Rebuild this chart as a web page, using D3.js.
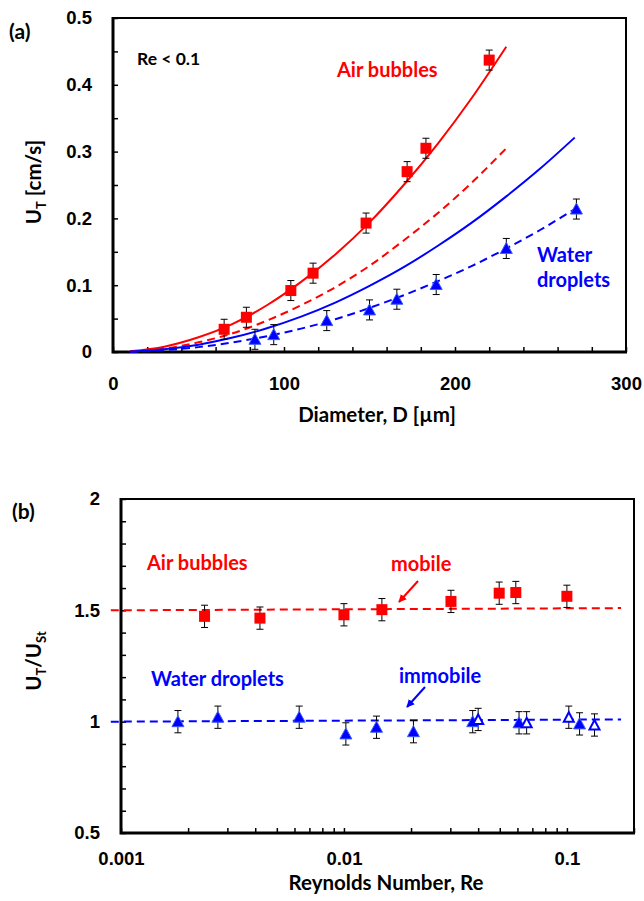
<!DOCTYPE html>
<meta charset="utf-8">
<head>
<title>Terminal velocity</title>
<style>
body { margin: 0; background: #fff; font-family: Lato, "Open Sans", sans-serif; }
text { font-weight: bold; }
.tick line { stroke: #000; stroke-width: 1.5; }
.tick text { font-size: 18.5px; fill: #000; }
.domain { display: none; }
</style>
</head>
<body>
<svg width="644" height="901"></svg>
<script src="https://cdnjs.cloudflare.com/ajax/libs/d3/7.8.5/d3.min.js"></script>
<script>
// ---- panel (a) data ----
var bubbleD   = [65, 78, 104, 117, 148, 172, 183, 220];
var bubbleU   = [0.034, 0.052, 0.092, 0.118, 0.193, 0.270, 0.305, 0.437];
var bubbleErr = [0.015, 0.015, 0.015, 0.015, 0.015, 0.015, 0.015, 0.015];
var dropletD   = [83, 94, 125, 150, 166, 189, 230, 271];
var dropletU   = [0.019, 0.026, 0.047, 0.063, 0.079, 0.101, 0.155, 0.214];
var dropletErr = [0.015, 0.015, 0.015, 0.015, 0.015, 0.015, 0.015, 0.015];

var curveBubbleD   = [10, 30, 50, 70, 90, 110, 130, 150, 170, 190, 210, 230];
var bubbleMobile   = [0.001, 0.008, 0.022, 0.042, 0.070, 0.105, 0.146, 0.194, 0.250, 0.312, 0.381, 0.457];
var bubbleImmobile = [0.0007, 0.005, 0.0145, 0.028, 0.047, 0.070, 0.097, 0.129, 0.167, 0.208, 0.254, 0.305];
var curveDropD      = [10, 30, 50, 70, 90, 110, 130, 150, 170, 190, 210, 230, 250, 270];
var dropletMobile   = [0.0004, 0.004, 0.011, 0.0216, 0.0356, 0.053, 0.074, 0.099, 0.127, 0.159, 0.194, 0.233, 0.275, 0.321];
var dropletImmobile = [0.0003, 0.0027, 0.0073, 0.0144, 0.0237, 0.035, 0.049, 0.066, 0.085, 0.106, 0.129, 0.155, 0.183, 0.214];

var xTicksA = [0, 100, 200, 300];
var yTicksA = [0, 0.1, 0.2, 0.3, 0.4, 0.5];

// ---- panel (b) data ----
var reBubble    = [0.00237, 0.0042, 0.0100, 0.0148, 0.0302, 0.0497, 0.059, 0.100];
var ratioBubble = [1.473, 1.465, 1.48, 1.503, 1.54, 1.577, 1.58, 1.563];
var reDropFilled    = [0.0018, 0.00272, 0.0063, 0.0102, 0.014, 0.0205, 0.0378, 0.061, 0.114];
var ratioDropFilled = [1.0, 1.02, 1.02, 0.945, 0.975, 0.955, 1.0, 0.995, 0.99];
var reDropOpen    = [0.040, 0.066, 0.102, 0.133];
var ratioDropOpen = [1.01, 0.995, 1.02, 0.985];
var ratioErr = 0.05;
var reFit = [0.0009, 0.175];
var bubbleFit = [1.5, 1.51];
var dropletFit = [1.0, 1.01];

var xTicksB = [0.001, 0.01, 0.1];
var yTicksB = [0.5, 1, 1.5, 2];

var RED = "#ff0000", BLUE = "#0000ff";

var svg = d3.select("svg");
var defs = svg.append("defs");
[["arRed", RED], ["arBlue", BLUE]].forEach(function(m) {
	defs.append("marker").attr("id", m[0])
		.attr("viewBox", "0 0 10 10").attr("refX", 9).attr("refY", 5)
		.attr("markerWidth", 4).attr("markerHeight", 4).attr("orient", "auto")
		.append("path").attr("d", "M0,0L10,5L0,10Z").attr("fill", m[1]);
});

function zip(a, b) { return a.map(function(v, i) { return [v, b[i]]; }); }

function errorBars(g, xs, ys, errs, x, y) {
	var eb = g.append("g").attr("stroke", "#000").attr("stroke-width", 1);
	xs.forEach(function(d, i) {
		var e = Array.isArray(errs) ? errs[i] : errs;
		var cx = x(d);
		eb.append("line").attr("x1", cx).attr("x2", cx).attr("y1", y(ys[i] - e)).attr("y2", y(ys[i] + e));
		eb.append("line").attr("x1", cx - 3.5).attr("x2", cx + 3.5).attr("y1", y(ys[i] - e)).attr("y2", y(ys[i] - e));
		eb.append("line").attr("x1", cx - 3.5).attr("x2", cx + 3.5).attr("y1", y(ys[i] + e)).attr("y2", y(ys[i] + e));
	});
}
function squares(g, xs, ys, x, y) {
	g.append("g").selectAll("rect").data(zip(xs, ys)).join("rect")
		.attr("x", function(d) { return x(d[0]) - 5.5; })
		.attr("y", function(d) { return y(d[1]) - 5.5; })
		.attr("width", 11).attr("height", 11).attr("fill", RED);
}
function triangles(g, xs, ys, x, y, open) {
	g.append("g").selectAll("path").data(zip(xs, ys)).join("path")
		.attr("transform", function(d) { return "translate(" + x(d[0]) + "," + y(d[1]) + ")"; })
		.attr("d", open ? "M0,-5L5,4.5L-5,4.5Z" : "M0,-6L6,5L-6,5Z")
		.attr("fill", open ? "#fff" : BLUE)
		.attr("stroke", open ? BLUE : "#3a5cff").attr("stroke-width", open ? 2 : 1);
}
function label(g, x, y, size, color, txt, anchor) {
	return g.append("text").attr("x", x).attr("y", y).attr("font-size", size)
		.attr("fill", color || "#000").attr("text-anchor", anchor || "start").text(txt);
}

//////////////////////////////////////////////////
// Panel (a)
//////////////////////////////////////////////////
var xa = d3.scaleLinear().domain([0, 300]).range([113, 626]);
var ya = d3.scaleLinear().domain([0, 0.5]).range([352, 18]);
var ga = svg.append("g");

ga.append("g").attr("transform", "translate(0,352)")
	.call(d3.axisBottom(xa).tickValues(d3.range(0, 301, 20)).tickSize(-5).tickPadding(25)
		.tickFormat(function(d) { return xTicksA.indexOf(d) >= 0 ? d : ""; }));
ga.append("g").attr("transform", "translate(113,0)")
	.call(d3.axisLeft(ya).tickValues(d3.range(0, 11).map(function(i) { return i * 0.05; })).tickSize(-5).tickPadding(21)
		.tickFormat(function(d) {
			var v = Math.round(d * 100) / 100;
			return yTicksA.some(function(t) { return Math.abs(t - v) < 1e-9; }) ? (v === 0 ? "0" : d3.format(".1f")(v)) : "";
		}));
ga.append("path").attr("d", "M113,18H626V352").attr("fill", "none").attr("stroke", "#000").attr("stroke-width", 2);
ga.append("path").attr("d", "M113,17V352H627").attr("fill", "none").attr("stroke", "#000").attr("stroke-width", 3);

var lineA = d3.line().x(function(d) { return xa(d[0]); }).y(function(d) { return ya(d[1]); }).curve(d3.curveMonotoneX);
ga.append("path").attr("d", lineA(zip(curveBubbleD, bubbleMobile))).attr("fill", "none").attr("stroke", RED).attr("stroke-width", 2);
ga.append("path").attr("d", lineA(zip(curveBubbleD, bubbleImmobile))).attr("fill", "none").attr("stroke", RED).attr("stroke-width", 2).attr("stroke-dasharray", "8,5");
ga.append("path").attr("d", lineA(zip(curveDropD, dropletMobile))).attr("fill", "none").attr("stroke", BLUE).attr("stroke-width", 2);
ga.append("path").attr("d", lineA(zip(curveDropD, dropletImmobile))).attr("fill", "none").attr("stroke", BLUE).attr("stroke-width", 2).attr("stroke-dasharray", "8,5");

errorBars(ga, bubbleD, bubbleU, bubbleErr, xa, ya);
errorBars(ga, dropletD, dropletU, dropletErr, xa, ya);
squares(ga, bubbleD, bubbleU, xa, ya);
triangles(ga, dropletD, dropletU, xa, ya, false);

label(ga, 9, 39, 21, null, "(a)");
label(ga, 137, 65, 17.5, null, "Re < 0.1");
label(ga, 337, 77, 20, RED, "Air bubbles");
label(ga, 537, 262, 20, BLUE, "Water");
label(ga, 537, 287, 20, BLUE, "droplets");
label(ga, 377, 422, 20.5, null, "Diameter, D [µm]", "middle");
var yla = ga.append("text").attr("transform", "translate(41,182) rotate(-90)").attr("font-size", 20.5).attr("text-anchor", "middle");
yla.append("tspan").text("U");
yla.append("tspan").attr("font-size", 13).attr("dy", 5).text("T");
yla.append("tspan").attr("dy", -5).text(" [cm/s]");

//////////////////////////////////////////////////
// Panel (b)
//////////////////////////////////////////////////
var xb = d3.scaleLog().domain([0.001, 0.2]).range([121, 634]);
var yb = d3.scaleLinear().domain([0.5, 2]).range([833, 499]);
var gb = svg.append("g");

var logTicks = [];
[0.001, 0.01, 0.1].forEach(function(dec) { for (var k = 1; k <= 9; k++) if (dec * k <= 0.2 + 1e-9) logTicks.push(dec * k); });
gb.append("g").attr("transform", "translate(0,833)")
	.call(d3.axisBottom(xb).tickValues(logTicks).tickSize(-5).tickPadding(19)
		.tickFormat(function(d) { var i = xTicksB.findIndex(function(t) { return Math.abs(t - d) / t < 1e-6; }); return i >= 0 ? String(xTicksB[i]) : ""; }));
gb.append("g").attr("transform", "translate(121,0)")
	.call(d3.axisLeft(yb).tickValues(d3.range(5, 21).map(function(i) { return i / 10; })).tickSize(-5).tickPadding(21)
		.tickFormat(function(d) { return yTicksB.indexOf(Math.round(d * 10) / 10) >= 0 ? String(Math.round(d * 10) / 10) : ""; }));
gb.append("path").attr("d", "M121,499H634V833").attr("fill", "none").attr("stroke", "#000").attr("stroke-width", 2);
gb.append("path").attr("d", "M121,498V833H635").attr("fill", "none").attr("stroke", "#000").attr("stroke-width", 3);

var lineB = d3.line().x(function(d) { return xb(d[0]); }).y(function(d) { return yb(d[1]); });
gb.append("path").attr("d", lineB(zip(reFit, bubbleFit))).attr("fill", "none").attr("stroke", RED).attr("stroke-width", 2).attr("stroke-dasharray", "8,5");
gb.append("path").attr("d", lineB(zip(reFit, dropletFit))).attr("fill", "none").attr("stroke", BLUE).attr("stroke-width", 2).attr("stroke-dasharray", "8,5");

errorBars(gb, reBubble, ratioBubble, ratioErr, xb, yb);
errorBars(gb, reDropFilled, ratioDropFilled, ratioErr, xb, yb);
errorBars(gb, reDropOpen, ratioDropOpen, ratioErr, xb, yb);
squares(gb, reBubble, ratioBubble, xb, yb);
triangles(gb, reDropFilled, ratioDropFilled, xb, yb, false);
triangles(gb, reDropOpen, ratioDropOpen, xb, yb, true);

label(gb, 12, 519, 21, null, "(b)");
label(gb, 147, 570, 20, RED, "Air bubbles");
label(gb, 391, 571, 20, RED, "mobile");
gb.append("line").attr("x1", 418).attr("y1", 581).attr("x2", 399).attr("y2", 602).attr("stroke", RED).attr("stroke-width", 2).attr("marker-end", "url(#arRed)");
label(gb, 151, 686, 20, BLUE, "Water droplets");
label(gb, 399, 683, 20, BLUE, "immobile");
gb.append("line").attr("x1", 425).attr("y1", 687).attr("x2", 407).attr("y2", 707).attr("stroke", BLUE).attr("stroke-width", 2).attr("marker-end", "url(#arBlue)");
label(gb, 386, 890, 20.5, null, "Reynolds Number, Re", "middle");
var ylb = gb.append("text").attr("transform", "translate(41,661) rotate(-90)").attr("font-size", 20.5).attr("text-anchor", "middle");
ylb.append("tspan").text("U");
ylb.append("tspan").attr("font-size", 13).attr("dy", 5).text("T");
ylb.append("tspan").attr("dy", -5).text("/U");
ylb.append("tspan").attr("font-size", 13).attr("dy", 5).text("St");
</script>
</body>
